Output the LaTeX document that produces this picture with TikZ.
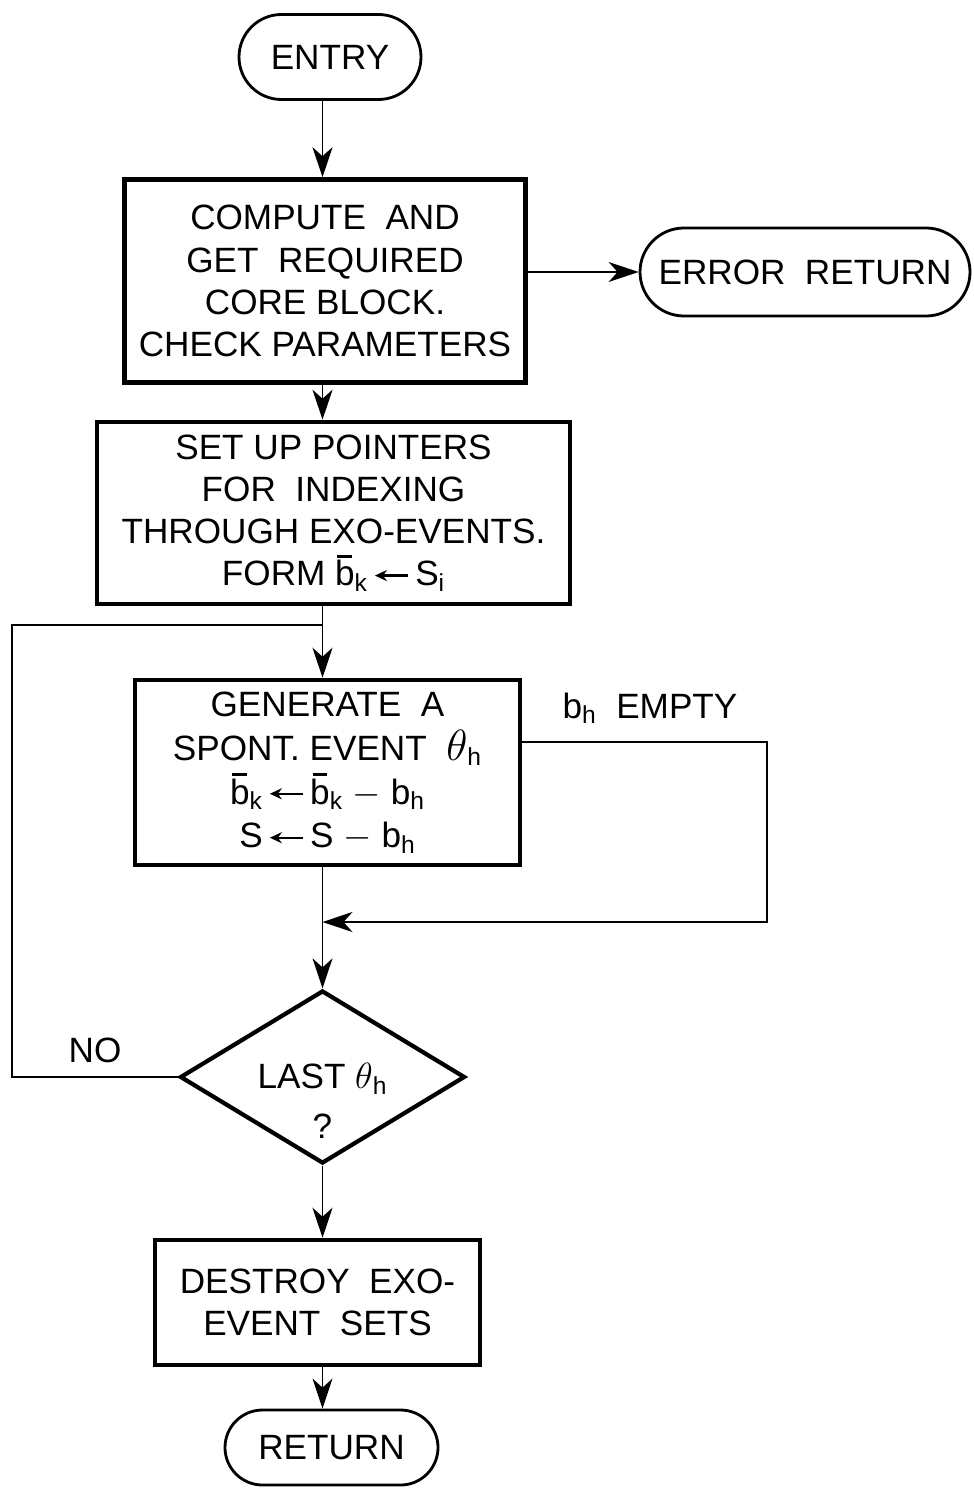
\documentclass[tikz,border=0pt]{standalone}
\usepackage{amsmath}
\usepackage{fontspec}
\setmainfont{Liberation Sans}
\usetikzlibrary{arrows.meta,positioning,shapes.geometric,shapes.misc}
\newcommand{\bk}{b\llap{\rule[0.8em]{0.42em}{0.07em}\hspace{0.07em}}\textsubscript{k}}
\newcommand{\bh}{b\textsubscript{h}}
\newcommand{\larr}{\,\tikz[baseline=-0.55ex]\draw[-{Stealth[length=2.4mm,width=2.2mm]},line width=1.3pt] (0.95em,0) -- (0,0);\,}

\begin{document}
\begin{tikzpicture}[
  term/.style={rounded rectangle,draw,line width=1.6pt,inner sep=0pt,font=\fontsize{20}{23}\selectfont},
  box/.style={rectangle,draw,line width=2.6pt,inner sep=0pt,align=center,font=\fontsize{20}{24}\selectfont},
  test/.style={diamond,draw,line width=2.4pt,inner sep=0pt,minimum width=5.7cm,minimum height=3.46cm,font=\fontsize{20}{28}\selectfont},
  lbl/.style={font=\fontsize{20}{23}\selectfont},
  arrow/.style={-{Stealth[length=6mm,width=4mm,inset=1.8mm]},line width=1.1pt},
  line/.style={line width=1.1pt}
]
\useasboundingbox (0,0) rectangle (19.46,-29.8);
\node[term,minimum width=3.64cm,minimum height=1.7cm] (entry) at (6.6,-1.14) {ENTRY};
\node[box,minimum width=8.02cm,minimum height=4.06cm] (comp) at (6.5,-5.62) {COMPUTE \ AND\\GET \ REQUIRED\\CORE BLOCK.\\CHECK PARAMETERS};
\node[term,minimum width=6.6cm,minimum height=1.76cm] (err) at (16.1,-5.44) {ERROR \ RETURN};
\node[box,minimum width=9.46cm,minimum height=3.64cm] (setup) at (6.67,-10.26) {SET UP POINTERS\\FOR \ INDEXING\\THROUGH EXO-EVENTS.\\FORM \bk\larr S\textsubscript{i}};
\node[box,minimum width=7.7cm,minimum height=3.7cm,font=\fontsize{20}{25}\selectfont] (gen) at (6.55,-15.45) {GENERATE \ A\\SPONT. EVENT \ {\fontsize{24}{25}\selectfont$\theta$}\textsubscript{h}\\\bk\larr\bk\ $-$ \bh\\S\larr S $-$ \bh};
\node[test] (last) at (6.45,-21.54) {\raisebox{-1.22cm}[0pt][0pt]{\begin{tabular}[b]{@{}c@{}}LAST {\fontsize{22}{25}\selectfont$\theta$}\textsubscript{h}\\?\end{tabular}}};
\node[box,minimum width=6.5cm,minimum height=2.5cm] (dest) at (6.35,-26.05) {DESTROY \ EXO-\\EVENT \ SETS};
\node[term,minimum width=4.26cm,minimum height=1.5cm] (ret) at (6.63,-28.95) {RETURN};
\node[lbl] (empty) at (13.0,-14.16) {\bh\ \ EMPTY};
\node[lbl] (no) at (1.9,-21.0) {NO};
\coordinate (j) at (6.45,-12.5);
\coordinate (lft) at (0.24,-12.5);
\coordinate (rgt) at (15.34,-14.84);
\coordinate (m) at (6.45,-18.44);
\draw[arrow] (entry.south -| j) -- (comp.north -| j);
\draw[arrow] (comp.east |- err) -- (err.west);
\draw[arrow] (comp.south -| j) -- (setup.north -| j);
\draw[arrow] (setup.south -| j) -- (gen.north -| j);
\draw[line] (last.west) -| (lft) -- (j);
\draw[arrow] (gen.east |- rgt) -- (rgt) |- (m);
\draw[arrow] (gen.south -| j) -- (last.north);
\draw[arrow] (last.south) -- (dest.north -| last);
\draw[arrow] (dest.south -| last) -- (ret.north -| last);
\end{tikzpicture}
\end{document}
